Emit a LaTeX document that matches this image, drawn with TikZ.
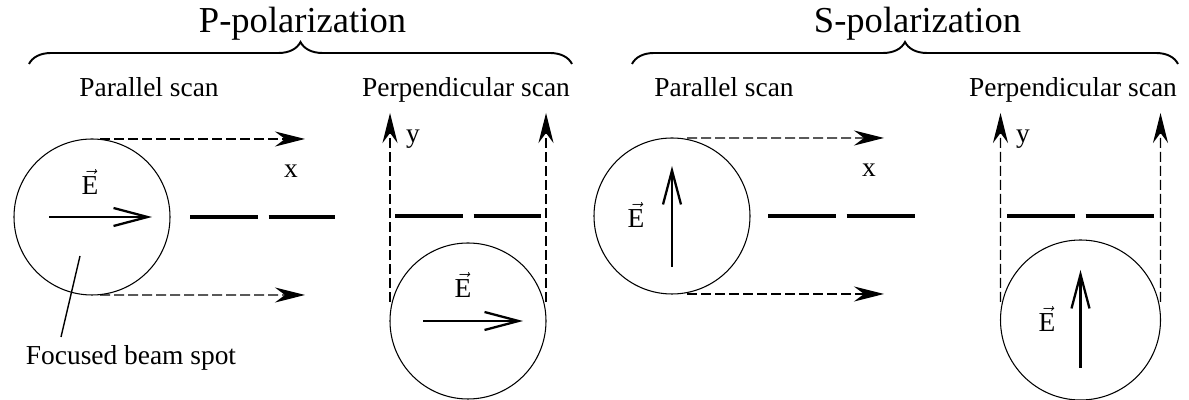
\documentclass[tikz,border=0pt]{standalone}
\usepackage{fontspec}
\setmainfont{Liberation Serif}
\usepackage{tikz}
\usetikzlibrary{arrows.meta, decorations.pathreplacing}
\tikzset{
  spot/.style={
    circle, draw, line width=0.6pt,
    inner sep=0pt, outer sep=0pt, minimum size=3.12cm
  },
  scanarr/.style={-{Stealth[length=0.6cm, width=0.3cm, inset=0.2cm]},
    dash pattern=on 0.2cm off 0.08cm, line width=0.7pt},
  evec/.style={-{Straight Barb[length=0.68cm, width=0.36cm]}, line width=1.3pt},
  sample/.style={line width=0.08cm, dash pattern=on 1.36cm off 0.21cm},
  brc/.style={decorate, decoration={brace, amplitude=0.44cm}, line width=1.1pt},
  ttl/.style={font=\fontsize{20.8}{25}\selectfont, anchor=base},
  lbl/.style={font=\fontsize{15.6}{19}\selectfont, anchor=base},
  axlbl/.style={font=\fontsize{15.6}{19}\selectfont}
}

\begin{document}
\begin{tikzpicture}
  \useasboundingbox (0,0) rectangle (23.78,8.0);

  % Headings and braces
  \node[ttl] (ptitle) at (6.05, 7.34) {P-polarization};
  \node[ttl] (stitle) at (18.35, 7.34) {S-polarization};
  \draw[brc] (0.58, 6.72) -- (11.44, 6.72);
  \draw[brc] (12.64, 6.72) -- (23.56, 6.72);

  \node[lbl] (ppar)  at (2.98, 6.06)  {Parallel scan};
  \node[lbl] (pperp) at (9.32, 6.06)  {Perpendicular scan};
  \node[lbl] (spar)  at (14.48, 6.06) {Parallel scan};
  \node[lbl] (sperp) at (21.46, 6.06) {Perpendicular scan};

  % ── P-polarization, parallel scan ──
  \node[spot] (c1) at (1.84, 3.66) {};
  \coordinate (c1top) at (6.10, 5.22);
  \coordinate (c1bot) at (6.10, 2.10);
  \draw[scanarr] ([xshift=0.16cm]c1.north) -- (c1top);
  \draw[scanarr] ([xshift=0.16cm]c1.south) -- (c1bot);
  \draw[sample] (3.80, 3.66) -- (6.70, 3.66);
  \node[axlbl] (xp) at (5.82, 4.58) {x};
  \node[lbl] (e1) at (1.80, 4.10) {$\vec{\mathrm{E}}$};
  \draw[evec] ([xshift=-0.86cm]c1.center) -- ([xshift=1.2cm]c1.center);
  \coordinate (beam) at (1.60, 2.88);
  \coordinate (beamend) at (1.22, 1.26);
  \draw[line width=0.8pt] (beam) -- (beamend);
  \node[lbl] (beamlbl) at (2.62, 0.70) {Focused beam spot};

  % ── P-polarization, perpendicular scan ──
  \node[spot] (c2) at (9.36, 1.58) {};
  \coordinate (c2l) at (7.80, 5.74);
  \coordinate (c2r) at (10.92, 5.74);
  \draw[scanarr] ([yshift=0.38cm]c2.west) -- (c2l);
  \draw[scanarr] ([yshift=0.38cm]c2.east) -- (c2r);
  \draw[sample] (7.90, 3.68) -- (10.82, 3.68);
  \node[axlbl] (yp) at (8.26, 5.22) {y};
  \node[lbl] (e2) at (9.26, 2.04) {$\vec{\mathrm{E}}$};
  \draw[evec] ([xshift=-0.9cm]c2.center) -- ([xshift=1.1cm]c2.center);

  % ── S-polarization, parallel scan ──
  \node[spot] (c3) at (13.44, 3.68) {};
  \coordinate (c3top) at (17.68, 5.24);
  \coordinate (c3bot) at (17.68, 2.12);
  \draw[scanarr] ([xshift=0.3cm]c3.north) -- (c3top);
  \draw[scanarr] ([xshift=0.3cm]c3.south) -- (c3bot);
  \draw[sample] (15.36, 3.68) -- (18.30, 3.68);
  \node[axlbl] (xs) at (17.38, 4.60) {x};
  \node[lbl] (e3) at (12.72, 3.44) {$\vec{\mathrm{E}}$};
  \draw[evec] ([yshift=-1.02cm]c3.center) -- ([yshift=1.0cm]c3.center);

  % ── S-polarization, perpendicular scan ──
  \node[spot, minimum size=3.2cm] (c4) at (21.61, 1.60) {};
  \coordinate (c4l) at (20.01, 5.74);
  \coordinate (c4r) at (23.21, 5.74);
  \draw[scanarr] ([yshift=0.36cm]c4.west) -- (c4l);
  \draw[scanarr] ([yshift=0.36cm]c4.east) -- (c4r);
  \draw[sample] (20.14, 3.68) -- (23.12, 3.68);
  \node[axlbl] (ys) at (20.46, 5.22) {y};
  \node[lbl] (e4) at (20.94, 1.36) {$\vec{\mathrm{E}}$};
  \draw[evec] ([yshift=-0.96cm]c4.center) -- ([yshift=1.0cm]c4.center);
\end{tikzpicture}
\end{document}
